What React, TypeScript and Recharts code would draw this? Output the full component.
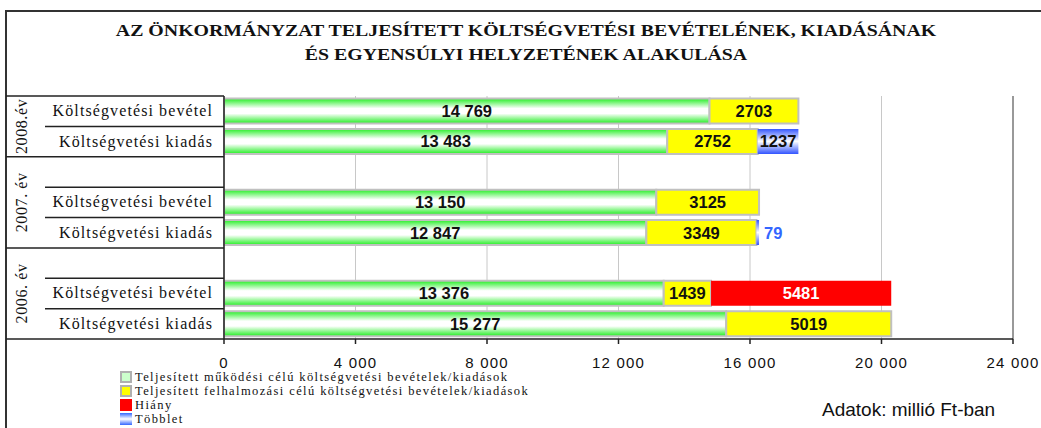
import React from "react";
import {
  BarChart,
  Bar,
  XAxis,
  YAxis,
  CartesianGrid,
  LabelList,
  ReferenceLine,
} from "recharts";

// one row per bar; empty rows are the gaps between the years
const rowIds = ["r0", "r1", "r2", "r3", "r4", "r5", "r6", "r7"];
const rowLabels = [
  "Költségvetési bevétel",
  "Költségvetési kiadás",
  "",
  "Költségvetési bevétel",
  "Költségvetési kiadás",
  "",
  "Költségvetési bevétel",
  "Költségvetési kiadás",
];
const yearLabels = ["2008.év", "2007. év", "2006. év"];
const rowYear = [0, 0, 1, 1, 1, 2, 2, 2];

const mukodesi = [14769, 13483, null, 13150, 12847, null, 13376, 15277];
const felhalmozasi = [2703, 2752, null, 3125, 3349, null, 1439, 5019];
const hiany = [null, null, null, null, null, null, 5481, null];
const tobblet = [null, 1237, null, null, 79, null, null, null];

const xTicks = [0, 4000, 8000, 12000, 16000, 20000, 24000];

const legendItems = [
  "Teljesített működési célú költségvetési bevételek/kiadások",
  "Teljesített felhalmozási célú költségvetési bevételek/kiadások",
  "Hiány",
  "Többlet",
];

const data = rowIds.map((id, i) => ({
  id,
  mukodesi: mukodesi[i],
  felhalmozasi: felhalmozasi[i],
  hiany: hiany[i],
  tobblet: tobblet[i],
}));

// layout
const W = 1041;
const H = 428;
const PLOT_LEFT = 224;
const PLOT_TOP = 96;
const PLOT_BOTTOM = 339;
const BAND = (PLOT_BOTTOM - PLOT_TOP) / rowIds.length;
const FRAME_X = 6;
const YEAR_COL = 45;

const serif = "'Liberation Serif', 'Times New Roman', serif";
const sans = "'Liberation Sans', Arial, sans-serif";

const spaced = (v: number) => String(v).replace(/\B(?=(\d{3})+(?!\d))/g, " ");

function YTick(props: any) {
  const { y, payload } = props;
  const i = rowIds.indexOf(payload.value);
  const first = i === 0 || rowYear[i] !== rowYear[i - 1];
  const last = i === rowIds.length - 1 || rowYear[i] !== rowYear[i + 1];
  const n = rowYear.filter((g) => g === rowYear[i]).length;
  const top = y - BAND / 2;
  const bottom = y + BAND / 2;
  const yc = top + (n * BAND) / 2;
  return (
    <g>
      {i === 0 && (
        <line x1={FRAME_X} x2={PLOT_LEFT} y1={top} y2={top} stroke="#222" strokeWidth={1.5} />
      )}
      <line
        x1={last ? FRAME_X : YEAR_COL}
        x2={PLOT_LEFT}
        y1={bottom}
        y2={bottom}
        stroke="#222"
        strokeWidth={1.5}
      />
      <text
        x={PLOT_LEFT - 11}
        y={y}
        dy={5}
        textAnchor="end"
        fontFamily={serif}
        fontSize={16}
        letterSpacing={1.1}
        fill="#111"
      >
        {rowLabels[i]}
      </text>
      {first && (
        <text
          x={27}
          y={yc}
          transform={`rotate(-90 27 ${yc})`}
          textAnchor="middle"
          fontFamily={serif}
          fontSize={16}
          letterSpacing={0.6}
          fill="#111"
        >
          {yearLabels[rowYear[i]]}
        </text>
      )}
    </g>
  );
}

function XTick(props: any) {
  const { x, y, payload } = props;
  return (
    <text x={x} y={y} dy={22} textAnchor="middle" fontFamily={sans} fontSize={15} letterSpacing={1.2} fill="#111">
      {spaced(payload.value)}
    </text>
  );
}

const centerLabel = (fill: string, fmt: (v: number) => string) => (p: any) => {
  const { x, y, width, height, value } = p;
  if (value == null) return null;
  return (
    <text
      x={x + width / 2}
      y={y + height / 2}
      dy={6}
      textAnchor="middle"
      fontFamily={sans}
      fontWeight="bold"
      fontSize={16.5}
      fill={fill}
    >
      {fmt(value)}
    </text>
  );
};

const tobbletLabel = (p: any) => {
  const { x, y, width, height, value } = p;
  if (value == null) return null;
  const inside = width > 30;
  return (
    <text
      x={inside ? x + width / 2 : x + width + 5}
      y={y + height / 2}
      dy={6}
      textAnchor={inside ? "middle" : "start"}
      fontFamily={sans}
      fontWeight="bold"
      fontSize={16.5}
      fill={inside ? "#111" : "#3366ff"}
    >
      {value}
    </text>
  );
};

function LegendIcon({ i }: { i: number }) {
  if (i === 0)
    return <span style={{ display: "inline-block", width: 8, height: 8, background: "#ccffcc", border: "2px solid #b0b0b0" }} />;
  if (i === 1)
    return <span style={{ display: "inline-block", width: 8, height: 8, background: "#ffff00", border: "2px solid #b0b0b0" }} />;
  if (i === 2) return <span style={{ display: "inline-block", width: 12, height: 12, background: "#ff0000" }} />;
  return (
    <span
      style={{
        display: "inline-block",
        width: 12,
        height: 12,
        background: "linear-gradient(#3366ff, #ffffff 50%, #3366ff)",
      }}
    />
  );
}

export default function App() {
  return (
    <div style={{ position: "absolute", left: 0, top: 0, width: W, height: H, overflow: "hidden", background: "#fff" }}>
      <div
        style={{
          position: "absolute",
          left: FRAME_X - 1,
          top: 10,
          width: W,
          height: H,
          borderTop: "2px solid #333",
          borderLeft: "2px solid #333",
        }}
      />
      <div
        style={{
          position: "absolute",
          left: 0,
          width: 1052,
          top: 19,
          textAlign: "center",
          fontFamily: serif,
          fontWeight: "bold",
          fontSize: 16,
          lineHeight: "24px",
          color: "#111",
          transform: "scaleX(1.24)",
          transformOrigin: "526px 0",
        }}
      >
        <div>AZ ÖNKORMÁNYZAT TELJESÍTETT KÖLTSÉGVETÉSI BEVÉTELÉNEK, KIADÁSÁNAK</div>
        <div>ÉS EGYENSÚLYI HELYZETÉNEK ALAKULÁSA</div>
      </div>
      <div style={{ position: "absolute", left: 0, top: 0 }}>
        <BarChart
          width={W}
          height={H}
          data={data}
          layout="vertical"
          margin={{ top: PLOT_TOP, right: W - 1013, bottom: H - PLOT_BOTTOM - 30, left: 0 }}
          barCategoryGap={2.5}
        >
          <defs>
            <linearGradient id="gGreen" x1="0" y1="0" x2="0" y2="1">
              <stop offset="0%" stopColor="#22ee22" />
              <stop offset="40%" stopColor="#ffffff" />
              <stop offset="60%" stopColor="#ffffff" />
              <stop offset="100%" stopColor="#22ee22" />
            </linearGradient>
            <linearGradient id="gBlue" x1="0" y1="0" x2="0" y2="1">
              <stop offset="0%" stopColor="#3355ff" />
              <stop offset="50%" stopColor="#ffffff" />
              <stop offset="100%" stopColor="#3355ff" />
            </linearGradient>
          </defs>
          <CartesianGrid horizontal={false} stroke="#c8c8c8" />
          <XAxis
            type="number"
            domain={[0, 24000]}
            ticks={xTicks}
            interval={0}
            height={30}
            axisLine={{ stroke: "#222", strokeWidth: 1.5 }}
            tickLine={{ stroke: "#222", strokeWidth: 1.5 }}
            tickSize={5}
            tick={<XTick />}
          />
          <XAxis
            xAxisId="top"
            orientation="top"
            type="number"
            domain={[0, 24000]}
            height={0}
            tick={false}
            tickLine={false}
            axisLine={{ stroke: "#999", strokeWidth: 2 }}
          />
          <YAxis
            type="category"
            dataKey="id"
            width={PLOT_LEFT}
            axisLine={{ stroke: "#222", strokeWidth: 1.5 }}
            tickLine={false}
            interval={0}
            tick={<YTick />}
          />
          <ReferenceLine x={24000} stroke="#999" strokeWidth={2} />
          <Bar dataKey="mukodesi" stackId="a" fill="url(#gGreen)" stroke="#c0c0c0" strokeWidth={2} isAnimationActive={false}>
            <LabelList dataKey="mukodesi" content={centerLabel("#111", spaced)} />
          </Bar>
          <Bar dataKey="felhalmozasi" stackId="a" fill="#ffff00" stroke="#c0c0c0" strokeWidth={2} isAnimationActive={false}>
            <LabelList dataKey="felhalmozasi" content={centerLabel("#111", (v) => String(v))} />
          </Bar>
          <Bar dataKey="hiany" stackId="a" fill="#ff0000" isAnimationActive={false}>
            <LabelList dataKey="hiany" content={centerLabel("#ffffff", (v) => String(v))} />
          </Bar>
          <Bar dataKey="tobblet" stackId="a" fill="url(#gBlue)" isAnimationActive={false}>
            <LabelList dataKey="tobblet" content={tobbletLabel} />
          </Bar>
        </BarChart>
      </div>
      <div
        style={{
          position: "absolute",
          left: 120,
          top: 370,
          fontFamily: serif,
          fontSize: 12.5,
          letterSpacing: 1.4,
          color: "#111",
        }}
      >
        {legendItems.map((t, i) => (
          <div key={t} style={{ display: "flex", alignItems: "center", gap: 3, height: 14, lineHeight: "14px", whiteSpace: "nowrap" }}>
            <LegendIcon i={i} />
            <span>{t}</span>
          </div>
        ))}
      </div>
      <div
        style={{
          position: "absolute",
          left: 822,
          top: 399,
          fontFamily: sans,
          fontSize: 19,
          color: "#111",
          whiteSpace: "nowrap",
        }}
      >
        Adatok: millió Ft-ban
      </div>
    </div>
  );
}
